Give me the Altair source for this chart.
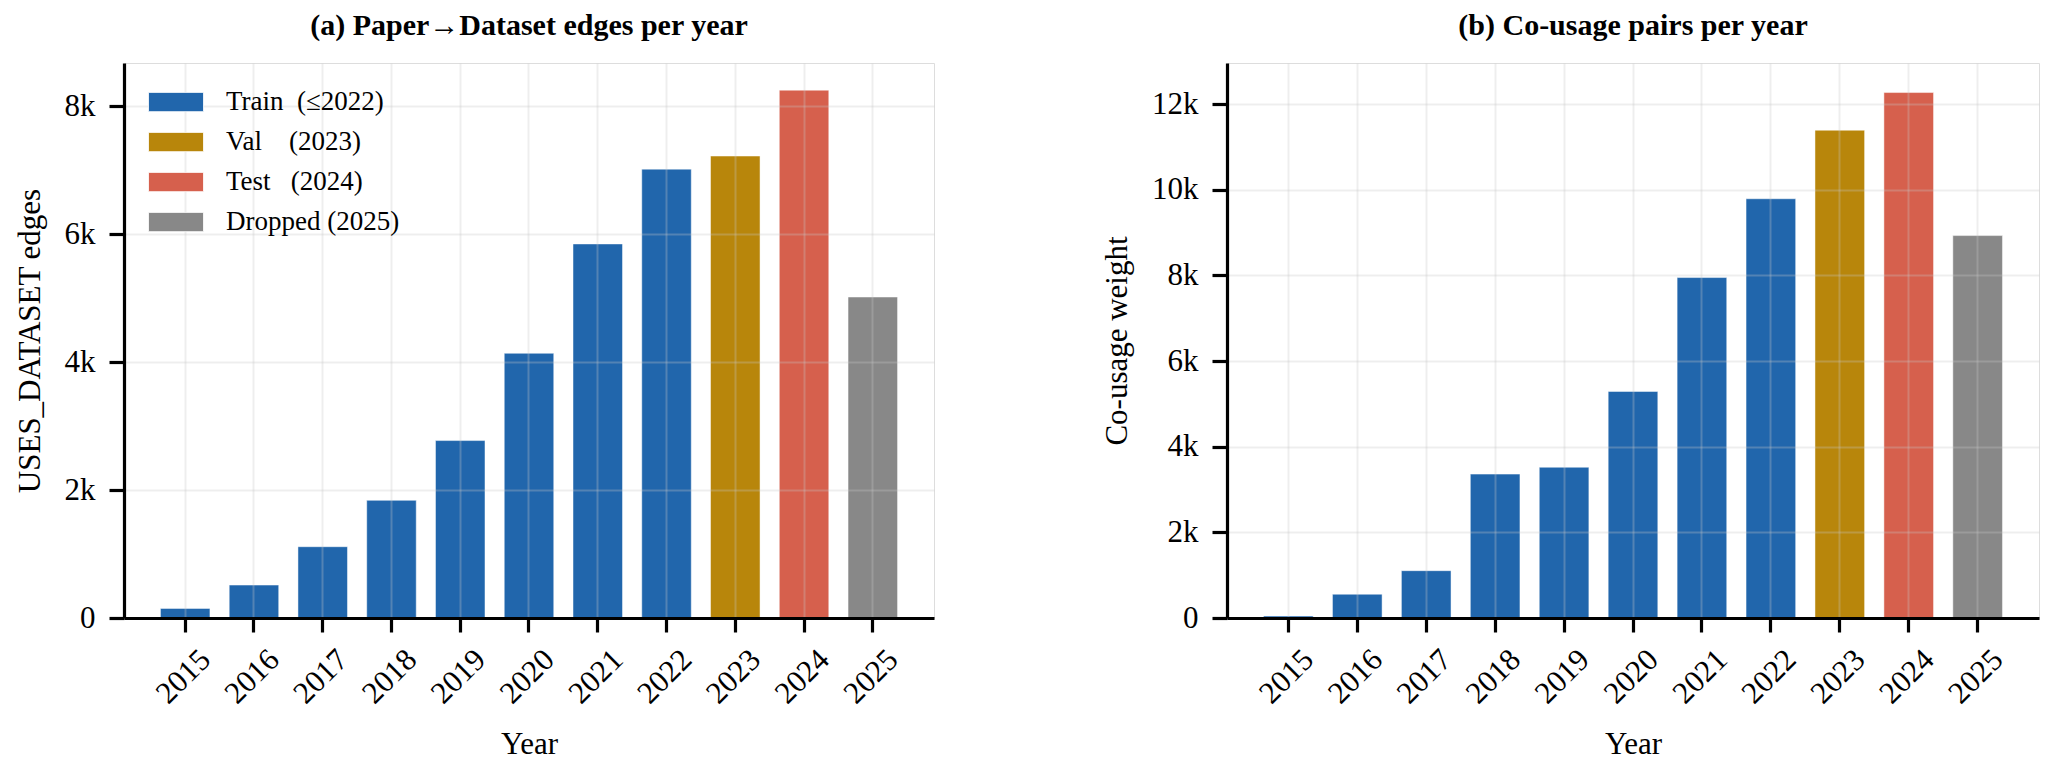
import altair as alt
import pandas as pd

years = [2015, 2016, 2017, 2018, 2019, 2020, 2021, 2022, 2023, 2024, 2025]
edges = [150, 515, 1115, 1840, 2775, 4140, 5850, 7020, 7225, 8255, 5020]
cousage = [45, 555, 1105, 3360, 3520, 5290, 7950, 9790, 11390, 12270, 8930]
NB = "\u00a0"
split_names = [
    "Train" + NB * 2 + "(≤2022)",
    "Val" + NB * 4 + "(2023)",
    "Test" + NB * 3 + "(2024)",
    "Dropped" + NB + "(2025)",
]
split_of_year = [split_names[0]] * 8 + [split_names[1], split_names[2], split_names[3]]
split_colors = ["#2166ac", "#b8860b", "#d6604d", "#888888"]

df = pd.DataFrame({"year": [str(y) for y in years], "edges": edges,
                   "cousage": cousage, "split": split_of_year})

FONT = "Liberation Serif"
color_scale = alt.Scale(domain=split_names, range=split_colors)
x_scale = alt.Scale(paddingInner=0.28, paddingOuter=0.53)

x_axis = alt.Axis(title="Year", labelAngle=-45, labelFontSize=31, titleFontSize=31,
                  labelFont=FONT, titleFont=FONT, titleFontWeight="normal",
                  labelColor="black", titleColor="black", labelOffset=10,
                  tickSize=14, tickWidth=3.2, tickColor="black",
                  domainColor="black", domainWidth=3.2, labelPadding=12,
                  titlePadding=20, grid=True, gridColor="#c8c8c8",
                  gridOpacity=0.3, gridWidth=2, zindex=1)

def y_axis(title, values):
    return alt.Axis(title=title, values=values, labelFontSize=31, titleFontSize=31,
                    labelFont=FONT, titleFont=FONT, titleFontWeight="normal",
                    labelColor="black", titleColor="black",
                    labelExpr="datum.value == 0 ? '0' : format(datum.value/1000, 'd') + 'k'",
                    tickSize=15, tickWidth=3.2, tickColor="black",
                    domainColor="black", domainWidth=3.2, labelPadding=14,
                    titlePadding=18, grid=True, gridColor="#c8c8c8",
                    gridOpacity=0.3, gridWidth=2, zindex=1)

title_props = dict(fontSize=30, font=FONT, fontWeight="bold", color="black",
                   anchor="middle", offset=22)

left = alt.Chart(df).mark_bar(stroke="white", strokeWidth=0.8, strokeOpacity=0.6).encode(
    x=alt.X("year:O", scale=x_scale, axis=x_axis),
    y=alt.Y("edges:Q", scale=alt.Scale(domain=[0, 8680], nice=False),
            axis=y_axis("USES_DATASET edges", [0, 2000, 4000, 6000, 8000])),
    color=alt.Color("split:N", scale=color_scale, sort=split_names,
                    legend=alt.Legend(title=None, orient="none", legendX=24, legendY=24,
                                      symbolType="M-1,-0.35H1V0.35H-1Z", symbolSize=3025,
                                      symbolStrokeColor="white", symbolStrokeWidth=0.8,
                                      symbolOpacity=1,
                                      labelFont=FONT, labelFontSize=27, labelColor="black",
                                      labelOffset=22, clipHeight=30, rowPadding=10,
                                      padding=0, labelLimit=400)),
).properties(width=810, height=555,
             title=alt.TitleParams("(a) Paper→Dataset edges per year", **title_props))

right = alt.Chart(df).mark_bar(stroke="white", strokeWidth=0.8, strokeOpacity=0.6).encode(
    x=alt.X("year:O", scale=x_scale, axis=x_axis),
    y=alt.Y("cousage:Q", scale=alt.Scale(domain=[0, 12960], nice=False),
            axis=y_axis("Co-usage weight", [0, 2000, 4000, 6000, 8000, 10000, 12000])),
    color=alt.Color("split:N", scale=color_scale, sort=split_names, legend=None),
).properties(width=812, height=555,
             title=alt.TitleParams("(b) Co-usage pairs per year", **title_props))

chart = alt.hconcat(left, right, spacing=166).resolve_scale(
    y="independent", color="shared"
).configure_view(stroke=None).configure(
    padding={"left": 13, "top": 10, "right": 5, "bottom": 0}, background="white"
)

chart.save("out.html", embed_options={"renderer": "svg", "actions": False})
